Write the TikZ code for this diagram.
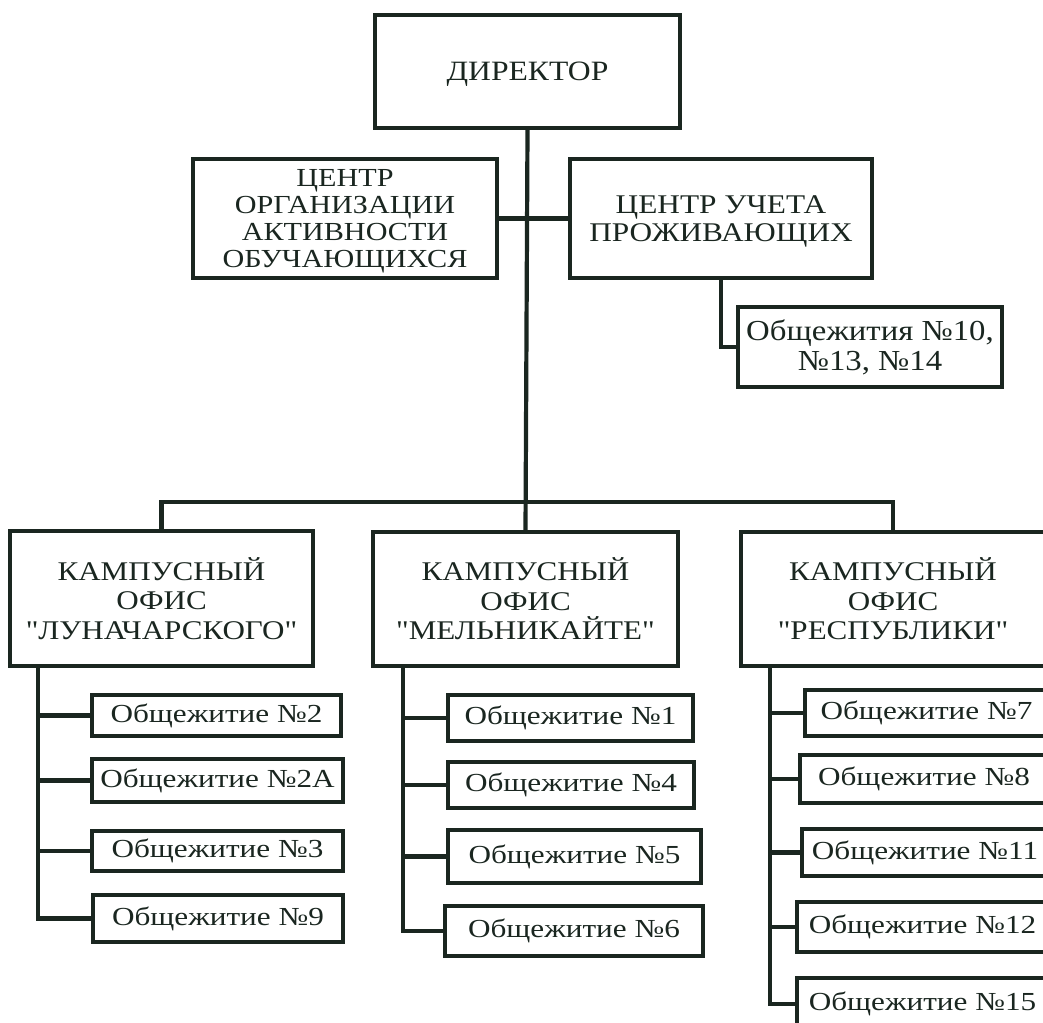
\documentclass[tikz,border=0pt]{standalone}
\usepackage{fontspec}
\setmainfont{Liberation Serif}
\newfontfamily\fntA[FakeStretch=1.13]{Liberation Serif}
\newfontfamily\fntC[FakeStretch=1.16]{Liberation Serif}
\newfontfamily\fntK[FakeStretch=1.15]{Liberation Serif}
\newfontfamily\fntE[FakeStretch=1.2]{Liberation Serif}
\definecolor{ink}{RGB}{26,38,32}
\newcommand\mybox[7]{\node[#6, minimum width={#4-#2}, minimum height={#5-#3}] (#1) at ({(#2+#4)/2},{(#3+#5)/2}) {#7};}
\begin{document}
\begin{tikzpicture}[x=1pt,y=-1pt,
  box/.style={draw=ink, text=ink, line width=3.8pt, inner sep=0pt, align=center},
  dbox/.style={box, font=\fntA\fontsize{28}{30}\selectfont, text depth=-2pt},
  cbox/.style={box, font=\fntC\fontsize{26}{26.7}\selectfont, text depth=-5pt},
  rbox/.style={box, font=\fntC\fontsize{27}{28}\selectfont, text depth=-3.5pt},
  tbox/.style={box, font=\fntA\fontsize{29}{30}\selectfont},
  kbox/.style={box, font=\fntK\fontsize{27}{29.5}\selectfont},
  hbox/.style={box, font=\fntE\fontsize{26}{28}\selectfont},
  link/.style={line width=4.2pt, draw=ink}]
\useasboundingbox (0,0) rectangle (1043,1022);
\clip (0,0) rectangle (1043,1022);
\mybox{dir}{375}{15}{680}{128}{dbox}{ДИРЕКТОР}
\mybox{cl}{193}{159}{497}{278}{cbox}{ЦЕНТР\\ОРГАНИЗАЦИИ\\АКТИВНОСТИ\\ОБУЧАЮЩИХСЯ}
\mybox{cr}{570}{159}{872}{278}{rbox}{ЦЕНТР УЧЕТА\\ПРОЖИВАЮЩИХ}
\mybox{h10}{738}{307}{1002}{387}{tbox}{Общежития №10,\\№13, №14}
\mybox{k1}{10}{531}{313}{666}{kbox}{КАМПУСНЫЙ\\ОФИС\\"ЛУНАЧАРСКОГО"}
\mybox{k2}{373}{532}{678}{666}{kbox}{КАМПУСНЫЙ\\ОФИС\\"МЕЛЬНИКАЙТЕ"}
\mybox{k3}{741}{532}{1045}{666}{kbox}{КАМПУСНЫЙ\\ОФИС\\"РЕСПУБЛИКИ"}
\mybox{h2}{92}{695}{341}{736}{hbox}{Общежитие №2}
\mybox{h2a}{92}{759}{343}{802}{hbox}{Общежитие №2А}
\mybox{h3}{92}{831}{343}{871}{hbox}{Общежитие №3}
\mybox{h9}{93}{895}{343}{942}{hbox}{Общежитие №9}
\mybox{h1}{448}{695}{693}{741}{hbox}{Общежитие №1}
\mybox{h4}{448}{762}{694}{808}{hbox}{Общежитие №4}
\mybox{h5}{448}{830}{701}{883}{hbox}{Общежитие №5}
\mybox{h6}{445}{906}{703}{956}{hbox}{Общежитие №6}
\mybox{h7}{805}{690}{1048}{736}{hbox}{Общежитие №7}
\mybox{h8}{800}{755}{1048}{803}{hbox}{Общежитие №8}
\mybox{h11}{802}{829}{1048}{876}{hbox}{Общежитие №11}
\mybox{h12}{797}{902}{1048}{952}{hbox}{Общежитие №12}
\mybox{h15}{797}{978}{1048}{1030}{hbox}{Общежитие №15}
\draw[link] (dir.south) -- (k2.north);
\draw[link] (cl.east) -- (cr.west);
\draw[link] (cr.south) |- (h10.west);
\coordinate (bus) at (527,502);
\draw[link] (k1.north) |- (bus) -| (k3.north);
\path (k1.south west) ++(30,0) coordinate (s1);
\path (k2.south west) ++(32,0) coordinate (s2);
\path (k3.south west) ++(31,0) coordinate (s3);
\draw[link] (s1) |- (h9.west);
\foreach \h in {h2,h2a,h3} \draw[link] (s1 |- \h.west) -- (\h.west);
\draw[link] (s2) |- (h6.west);
\foreach \h in {h1,h4,h5} \draw[link] (s2 |- \h.west) -- (\h.west);
\draw[link] (s3) |- (h15.west);
\foreach \h in {h7,h8,h11,h12} \draw[link] (s3 |- \h.west) -- (\h.west);
\end{tikzpicture}
\end{document}
